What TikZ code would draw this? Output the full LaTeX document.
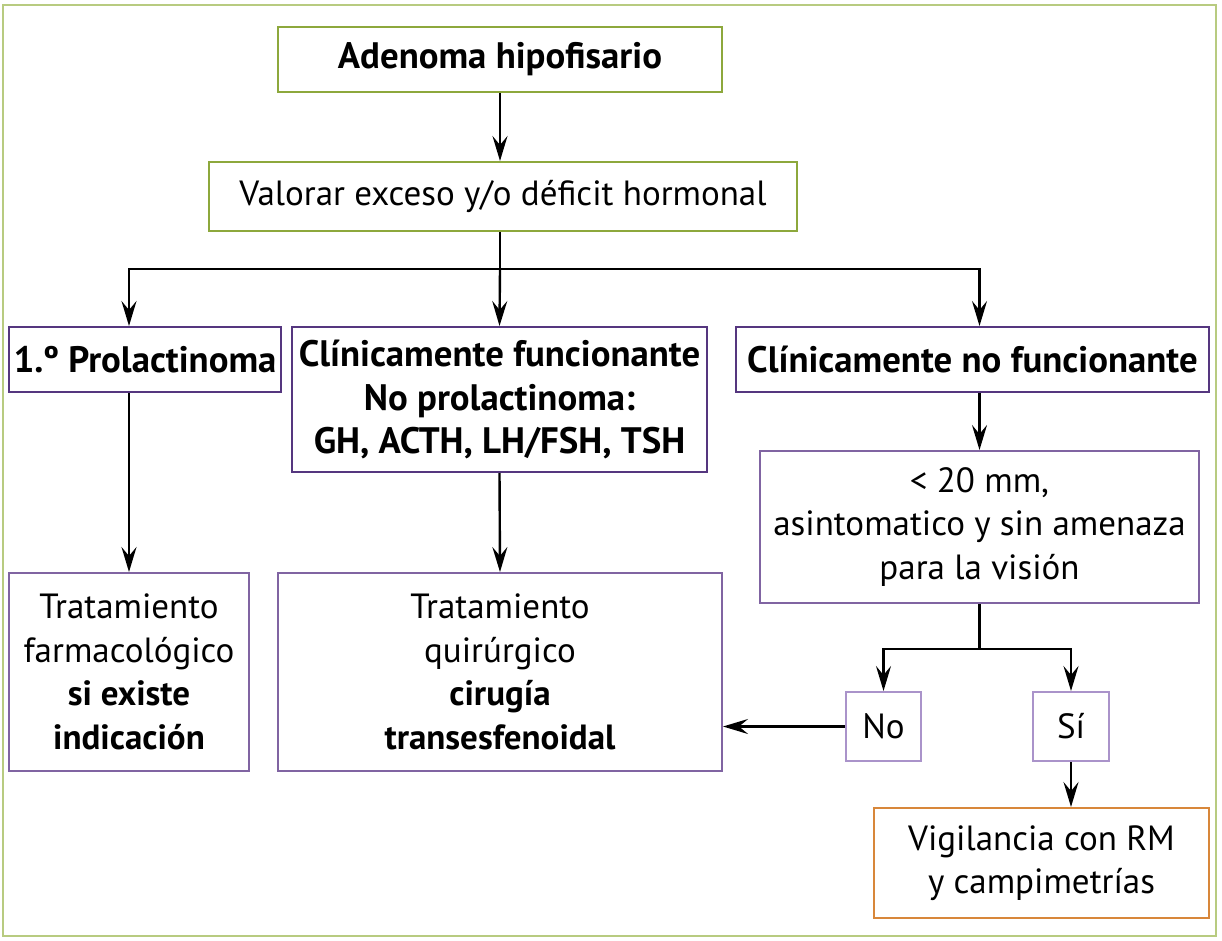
\documentclass[tikz,border=0pt]{standalone}
\usepackage{fontspec}
\setmainfont{PT Sans}
\usetikzlibrary{arrows.meta}
\definecolor{framegreen}{HTML}{B8CB80}
\definecolor{leafgreen}{HTML}{8DA83C}
\definecolor{darkviolet}{HTML}{55367F}
\definecolor{midviolet}{HTML}{8064A2}
\definecolor{paleviolet}{HTML}{AA93CA}
\definecolor{amber}{HTML}{D8873A}
\begin{document}
\begin{tikzpicture}[x=1pt,y=-1pt,
  box/.style={draw,line width=2pt,inner sep=0pt,align=center,font=\fontsize{35}{43.5}\selectfont},
  boldtext/.style={font=\fontsize{36.8}{43.5}\selectfont\bfseries},
  greenbox/.style={box,draw=leafgreen},
  darkbox/.style={box,draw=darkviolet,boldtext},
  midbox/.style={box,draw=midviolet},
  palebox/.style={box,draw=paleviolet},
  amberbox/.style={box,draw=amber},
  wire/.style={line width=2.4pt},
  link/.style={wire,-{Stealth[length=25pt,width=15pt,inset=9pt]}}]
\useasboundingbox (0,0) rectangle (1222,941);
\draw[framegreen,line width=1.5pt] (3,5) rectangle (1216,936);
% first two steps
\node[greenbox,boldtext,minimum width=444,minimum height=65] (adenoma) at (500,59.5) {Adenoma hipofisario};
\node[greenbox,minimum width=588,minimum height=69] (valorar) at (503,196.5) {Valorar exceso y/o déficit hormonal};
% three kinds
\node[darkbox,minimum width=272,minimum height=65] (prolac) at (145,359.5) {1.º Prolactinoma};
\node[darkbox,minimum width=415,minimum height=145] (funcion) at (499.5,399.5) {Clínicamente funcionante\\No prolactinoma:\\GH, ACTH, LH/FSH, TSH};
\node[darkbox,minimum width=473,minimum height=65] (nofunc) at (972.5,359.5) {Clínicamente no funcionante};
% treatments
\node[midbox,minimum width=240,minimum height=198] (farmaco) at (129,672) {Tratamiento\\farmacológico\\\textbf{si existe}\\\textbf{indicación}};
\node[midbox,minimum width=444,minimum height=198] (quirurg) at (500,672) {Tratamiento\\quirúrgico\\\textbf{cirugía}\\\textbf{transesfenoidal}};
\node[midbox,minimum width=439,minimum height=152] (menor) at (979.5,527) {< 20 mm,\\asintomatico y sin amenaza\\para la visión};
\node[palebox,minimum width=75,minimum height=69] (no) at (883.5,726.5) {No};
\node[palebox,minimum width=76,minimum height=69] (si) at (1071,726.5) {Sí};
\node[amberbox,minimum width=335,minimum height=110] (vigil) at (1041.5,863) {Vigilancia con RM\\y campimetrías};
% connectors
\coordinate (split) at (500,269);
\coordinate (fork) at (979.5,649);
\draw[link] (adenoma.south) -- (adenoma.south |- valorar.north);
\draw[wire] (adenoma.south |- valorar.south) -- (split);
\draw[link] (split) -| (farmaco |- prolac.north);
\draw[link] (split) -- (funcion.north);
\draw[link] (split) -| (menor |- nofunc.north);
\draw[link] (farmaco |- prolac.south) -- (farmaco.north);
\draw[link] (funcion.south) -- (quirurg.north);
\draw[link] (menor |- nofunc.south) -- (menor.north);
\draw[wire] (menor.south) -- (fork);
\draw[link] (fork) -| (no.north);
\draw[link] (fork) -| (si.north);
\draw[link] (no.west) -- (no.west -| quirurg.east);
\draw[link] (si.south) -- (si.south |- vigil.north);
\end{tikzpicture}
\end{document}
